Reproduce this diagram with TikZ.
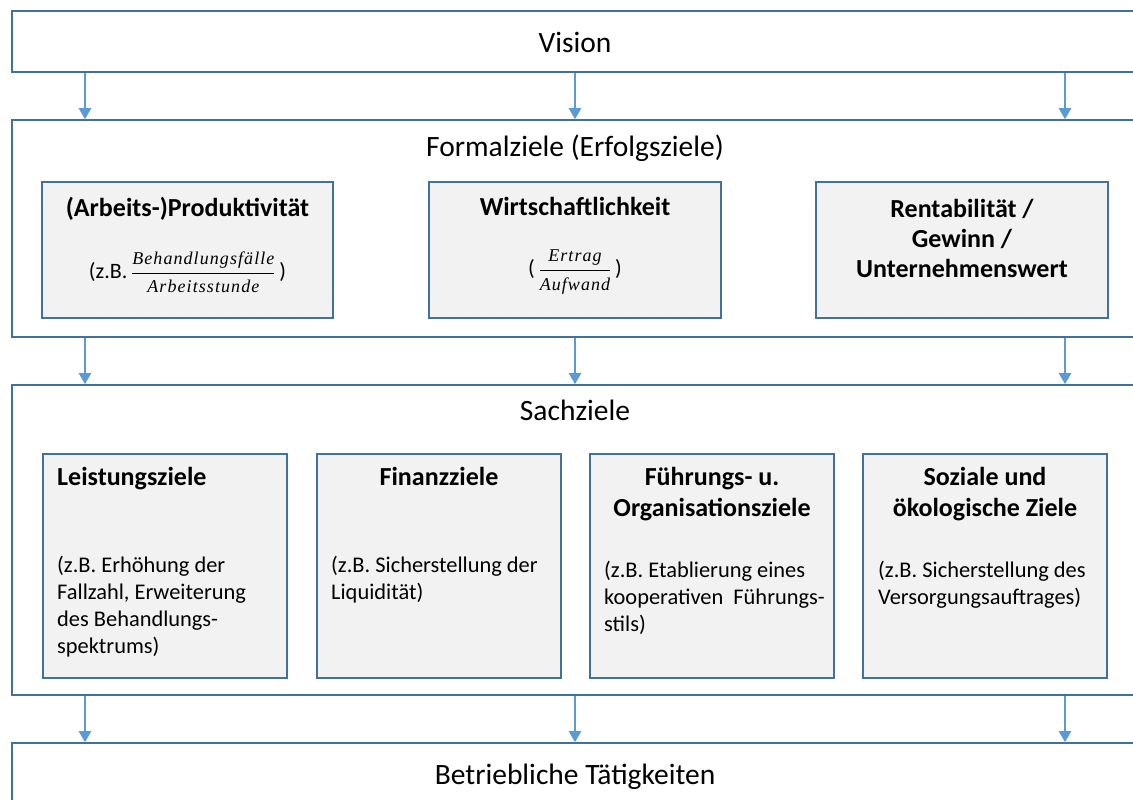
\documentclass[tikz,border=0pt]{standalone}
\usepackage{fontspec}
\setmainfont{Carlito}
\newfontfamily\fracfont[LetterSpace=6]{Liberation Serif}
\usetikzlibrary{arrows.meta}
\definecolor{frameblue}{HTML}{41719C}
\definecolor{arrowblue}{HTML}{5B9BD5}
\definecolor{boxgray}{HTML}{F2F2F2}
\newcommand{\fracit}[1]{\mbox{\fracfont\itshape\fontsize{18}{20}\selectfont #1}}
\tikzset{
  level/.style={draw=frameblue, line width=1.6pt, fill=white, inner sep=0pt},
  goal/.style={draw=frameblue, line width=1.3pt, fill=boxgray, inner sep=0pt},
  head/.style={font=\fontsize{29.5}{35}\selectfont, inner sep=0pt, anchor=base},
  title/.style={font=\bfseries\fontsize{26}{30}\selectfont, inner sep=0pt, align=center, anchor=north},
  body/.style={font=\fontsize{22.4}{27}\selectfont, inner sep=0pt, align=left, anchor=north west},
  formula/.style={font=\fontsize{22}{26}\selectfont, inner sep=0pt},
  flow/.style={draw=arrowblue, line width=2.4pt, -{Triangle[width=12pt,length=11pt]}},
}
\begin{document}
\begin{tikzpicture}[x=1pt,y=-1pt]
\clip (0,0) rectangle (1133,800);
\fill[white] (0,0) rectangle (1133,800);

% level frames (they run past the right and bottom edges)
\node[level, minimum width=1140pt, minimum height=61pt] (vision) at (582,41.5) {};
\node[level, minimum width=1140pt, minimum height=217pt] (formal) at (582,228.5) {};
\node[level, minimum width=1140pt, minimum height=310pt] (sach) at (582,540) {};
\node[level, minimum width=1140pt, minimum height=100pt] (taet) at (582,793) {};

\node[head] (tvision) at (575,52.5) {Vision};
\node[head] (tformal) at (575,156.5) {Formalziele (Erfolgsziele)};
\node[head] (tsach) at (575,420.5) {Sachziele};
\node[head] (ttaet) at (575,784.5) {Betriebliche Tätigkeiten};

% Formalziele
\node[goal, minimum width=291pt, minimum height=136pt] (prod) at (187.5,250) {};
\node[goal, minimum width=292pt, minimum height=136pt] (wirt) at (575,250) {};
\node[goal, minimum width=292pt, minimum height=136pt] (rent) at (962,250) {};

\node[title] (tprod) at (187.5,197) {(Arbeits-)Produktivität};
\node[formula] (fprod) at (187.5,272)
  {(z.B.\,$\displaystyle\frac{\fracit{Behandlungsfälle}}{\fracit{Arbeitsstunde}}$\,)};
\node[title] (twirt) at (575,197) {Wirtschaftlichkeit};
\node[formula] (fwirt) at (575,272)
  {(\,$\displaystyle\frac{\fracit{Ertrag}}{\fracit{Aufwand}}$\,)};
\node[title] (trent) at (962,199) {Rentabilität /\\Gewinn /\\Unternehmenswert};

% Sachziele
\node[goal, minimum width=244pt, minimum height=224pt] (leist) at (165,566) {};
\node[goal, minimum width=244pt, minimum height=224pt] (fin) at (439,566) {};
\node[goal, minimum width=244pt, minimum height=224pt] (fuehr) at (712,566) {};
\node[goal, minimum width=244pt, minimum height=224pt] (soz) at (985,566) {};

\node[title, anchor=north west, font=\bfseries\fontsize{26}{31}\selectfont] (tleist) at (57,467) {Leistungsziele};
\node[body] (bleist) at (57,555.5) {(z.B. Erhöhung der\\Fallzahl, Erweiterung\\des Behandlungs-\\spektrums)};
\node[title, font=\bfseries\fontsize{26}{31}\selectfont] (tfin) at (439,467) {Finanzziele};
\node[body] (bfin) at (331,555.5) {(z.B. Sicherstellung der\\Liquidität)};
\node[title, font=\bfseries\fontsize{26}{31}\selectfont] (tfuehr) at (712,467) {Führungs- u.\\Organisationsziele};
\node[body] (bfuehr) at (604,560.5) {(z.B. Etablierung eines\\kooperativen\ \ Führungs-\\stils)};
\node[title, font=\bfseries\fontsize{26}{31}\selectfont] (tsoz) at (985,467) {Soziale und\\ökologische Ziele};
\node[body] (bsoz) at (878,560.5) {(z.B. Sicherstellung des\\Versorgungsauftrages)};

% arrows between the levels
\foreach \xx in {85,575,1065} {
  \coordinate (c) at (\xx,0);
  \draw[flow] (vision.south -| c) -- (formal.north -| c);
  \draw[flow] (formal.south -| c) -- (sach.north -| c);
  \draw[flow] (sach.south -| c) -- (taet.north -| c);
}
\end{tikzpicture}
\end{document}
